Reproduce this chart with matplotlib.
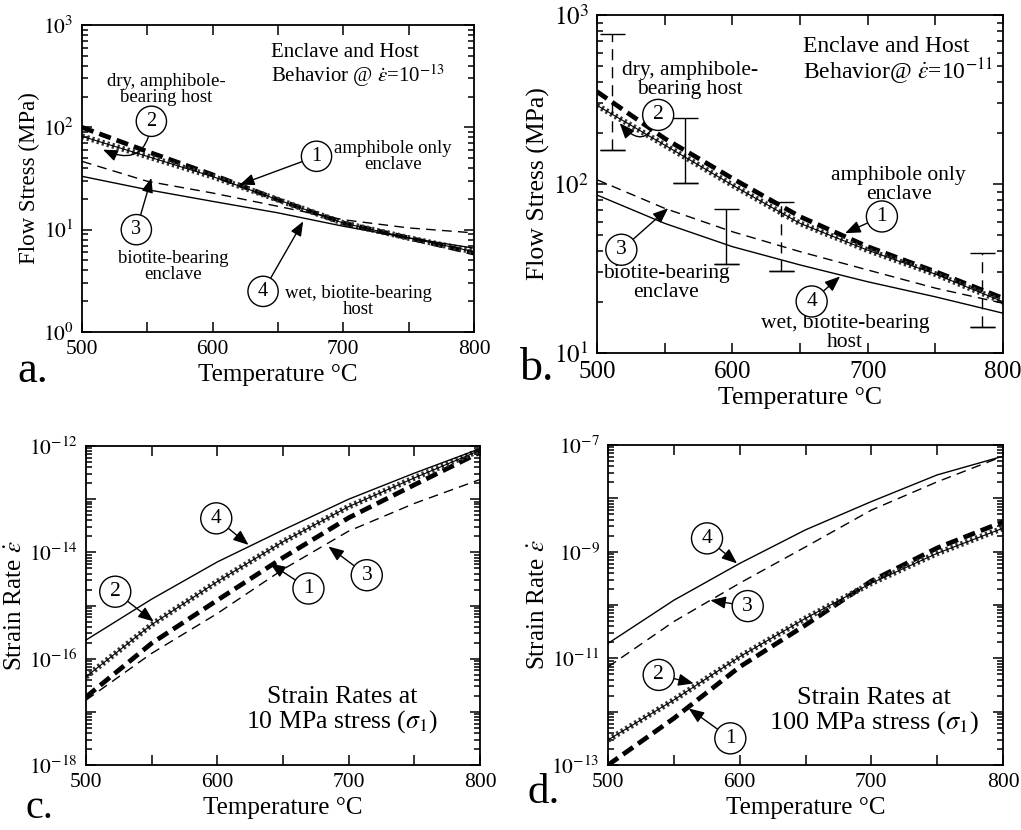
import numpy as np
import matplotlib
matplotlib.use("Agg")
import matplotlib.pyplot as plt
from matplotlib.ticker import FixedLocator, FuncFormatter, LogLocator, MultipleLocator, NullFormatter

plt.rcParams["font.family"] = ["Liberation Serif", "DejaVu Serif"]
plt.rcParams["mathtext.fontset"] = "stix"

temp = [500, 550, 600, 650, 700, 750, 800]

# a. flow stress (MPa), strain rate 1e-13
a_amph_encl = [100, 58, 34.4, 19.6, 11.6, 8.3, 5.9]
a_dry_host = [81.7, 52, 33, 19.6, 11.6, 8.3, 6.1]
a_bio_encl = [46.5, 29.7, 22.8, 16.9, 12.5, 10.4, 9.3]
a_wet_host = [33.2, 24.6, 18.9, 14.6, 10.8, 8.3, 6.6]

# b. flow stress (MPa), strain rate 1e-11
b_amph_encl = [352, 186, 108, 64.1, 42.6, 30.3, 21.1]
b_dry_host = [292, 170, 98.6, 58.5, 40.6, 29.3, 20.1]
b_bio_encl = [106, 71.8, 52.2, 39.8, 31, 24.2, 19.7]
b_wet_host = [86.1, 58.5, 42.6, 33.2, 26.4, 21.5, 17.2]

# b. error bars
bar_temp = [510.8, 565, 595.3, 635.7, 784.3]
bar_low = [160, 101, 33.6, 30.5, 14.2]
bar_high = [776, 247, 70.8, 78.5, 39.2]
bar_dashed = [True, False, False, True, True]

# c. log10 strain rate at 10 MPa
c_amph_encl = [-16.72, -15.71, -14.90, -14.10, -13.35, -12.73, -12.12]
c_dry_host = [-16.34, -15.36, -14.55, -13.80, -13.14, -12.60, -12.08]
c_bio_encl = [-16.78, -15.90, -15.15, -14.32, -13.60, -13.08, -12.63]
c_wet_host = [-15.65, -14.88, -14.18, -13.58, -13.00, -12.51, -12.05]

# d. log10 strain rate at 100 MPa
d_amph_encl = [-13.0, -12.125, -11.16, -10.375, -9.55, -8.93, -8.44]
d_dry_host = [-12.53, -11.78, -10.97, -10.25, -9.59, -9.03, -8.56]
d_bio_encl = [-11.16, -10.31, -9.59, -8.91, -8.22, -7.69, -7.21]
d_wet_host = [-10.72, -9.91, -9.22, -8.59, -8.06, -7.56, -7.21]


def draw_curves(ax, amph, dry, bio, wet):
    ax.plot(temp, amph, color="k", lw=3.4, ls=(0, (2.6, 1.3)))
    ax.plot(temp, dry, color="0.2", lw=4.2, ls=(0, (0.4, 0.5)))
    ax.plot(temp, dry, color="k", lw=0.8)
    ax.plot(temp, bio, color="k", lw=1.0, ls=(0, (7, 4.5)))
    ax.plot(temp, wet, color="k", lw=1.0)


def setup(ax, lo, hi, labelled, ylabel, tick_fs, xlabel_fs, ylabel_fs):
    ax.set_yscale("log")
    ax.set_xlim(500, 800)
    ax.set_ylim(10.0 ** lo, 10.0 ** hi)
    ax.xaxis.set_major_locator(MultipleLocator(100))
    ax.xaxis.set_minor_locator(MultipleLocator(50))
    ax.yaxis.set_major_locator(FixedLocator([10.0 ** e for e in range(lo, hi + 1)]))
    ax.yaxis.set_minor_locator(LogLocator(base=10, subs=np.arange(2, 10), numticks=50))
    ax.yaxis.set_minor_formatter(NullFormatter())
    ax.yaxis.set_major_formatter(FuncFormatter(
        lambda v, p: r"$10^{%d}$" % round(np.log10(v)) if round(np.log10(v)) in labelled else ""))
    ax.tick_params(which="both", direction="in", top=True, right=True, width=1.1)
    ax.tick_params(which="major", length=7, labelsize=tick_fs, pad=6)
    ax.tick_params(which="minor", length=4)
    ax.tick_params(axis="x", which="minor", length=7)
    for s in ax.spines.values():
        s.set_linewidth(1.3)
    ax.set_xlabel("Temperature °C", fontsize=xlabel_fs, labelpad=3)
    ax.set_ylabel(ylabel, fontsize=ylabel_fs, labelpad=2)


def circled(ax, num, xy, xytext, fs, rad=0.0):
    ax.annotate(num, xy=xy, xytext=xytext, ha="center", va="center", fontsize=fs,
                bbox=dict(boxstyle="circle,pad=0.28", fc="white", ec="k", lw=1.0),
                arrowprops=dict(arrowstyle="-|>,head_length=0.6,head_width=0.24", color="k",
                                lw=1.0, shrinkA=0, shrinkB=0,
                                connectionstyle="arc3,rad=%s" % rad))


fig = plt.figure(figsize=(10.21, 8.30), dpi=100)
ax_a = fig.add_axes([0.0803, 0.600, 0.3839, 0.3699])
ax_b = fig.add_axes([0.5847, 0.5747, 0.3977, 0.4072])
ax_c = fig.add_axes([0.0842, 0.0783, 0.3859, 0.3843])
ax_d = fig.add_axes([0.5955, 0.0783, 0.3869, 0.3855])

# a
draw_curves(ax_a, a_amph_encl, a_dry_host, a_bio_encl, a_wet_host)
setup(ax_a, 0, 3, [0, 1, 2, 3], "Flow Stress (MPa)", 15.5, 18, 16.5)
ax_a.text(645, 10 ** 2.60, "Enclave and Host\nBehavior @ $\\dot{\\varepsilon}$=10$^{-13}$",
          fontsize=15, ha="left", va="center", linespacing=1.0)
ax_a.text(564.6, 10 ** 2.37, "dry, amphibole-\nbearing host", fontsize=13.5,
          ha="center", va="center", linespacing=0.95)
ax_a.text(738.2, 10 ** 1.717, "amphibole only\nenclave", fontsize=13.5,
          ha="center", va="center", linespacing=0.95)
ax_a.text(569.7, 10 ** 0.642, "biotite-bearing\nenclave", fontsize=13.5,
          ha="center", va="center", linespacing=0.95)
ax_a.text(711.4, 10 ** 0.30, "wet, biotite-bearing\nhost", fontsize=13.5,
          ha="center", va="center", linespacing=0.95)
circled(ax_a, "2", (516.1, 10 ** 1.782), (553.1, 10 ** 2.059), 14.5, rad=-0.7)
circled(ax_a, "1", (620.8, 10 ** 1.44), (679.5, 10 ** 1.717), 14.5)
circled(ax_a, "3", (553.1, 10 ** 1.505), (541.6, 10 ** 1.0), 14.5)
circled(ax_a, "4", (669.3, 10 ** 1.081), (638.6, 10 ** 0.397), 14.5)

# b
draw_curves(ax_b, b_amph_encl, b_dry_host, b_bio_encl, b_wet_host)
for x, lo, hi, dashed in zip(bar_temp, bar_low, bar_high, bar_dashed):
    eb = ax_b.errorbar([x], [lo], yerr=[[0], [hi - lo]], fmt="none", ecolor="k",
                       elinewidth=1.0, capsize=9, capthick=1.0)
    if dashed:
        eb[2][0].set_linestyle((0, (8, 5)))
    ax_b.plot([x], [lo], marker="_", ms=18, mew=1.0, color="k")
setup(ax_b, 1, 3, [1, 2, 3], "Flow Stress (MPa)", 18, 18.5, 18.5)
ax_b.text(652, 10 ** 2.724, "Enclave and Host\nBehavior@ $\\dot{\\varepsilon}$=10$^{-11}$",
          fontsize=17, ha="left", va="center", linespacing=1.0)
ax_b.text(568.6, 10 ** 2.616, "dry, amphibole-\nbearing host", fontsize=15.5,
          ha="center", va="center", linespacing=0.95)
ax_b.text(722.8, 10 ** 1.995, "amphibole only\nenclave", fontsize=15.5,
          ha="center", va="center", linespacing=0.95)
ax_b.text(551.3, 10 ** 1.414, "biotite-bearing\nenclave", fontsize=15.5,
          ha="center", va="center", linespacing=0.95)
ax_b.text(683.3, 10 ** 1.118, "wet, biotite-bearing\nhost", fontsize=15.5,
          ha="center", va="center", linespacing=0.95)
circled(ax_b, "2", (516.8, 10 ** 2.36), (545.2, 10 ** 2.409), 15.5, rad=-0.9)
circled(ax_b, "1", (683.3, 10 ** 1.709), (710.5, 10 ** 1.808), 15.5)
circled(ax_b, "3", (552.6, 10 ** 1.857), (518, 10 ** 1.611), 15.5)
circled(ax_b, "4", (679.6, 10 ** 1.453), (658.6, 10 ** 1.305), 15.5)

# c
draw_curves(ax_c, 10.0 ** np.array(c_amph_encl), 10.0 ** np.array(c_dry_host),
            10.0 ** np.array(c_bio_encl), 10.0 ** np.array(c_wet_host))
setup(ax_c, -18, -12, [-18, -16, -14, -12], "Strain Rate $\\dot{\\varepsilon}$", 15.5, 18, 18)
ax_c.text(694.8, 10 ** -16.98, "Strain Rates at\n10 MPa stress ($\\sigma_1$)", fontsize=18.5,
          ha="center", va="center", linespacing=1.0)
circled(ax_c, "4", (623.8, 10 ** -13.86), (599.2, 10 ** -13.36), 15.5)
circled(ax_c, "2", (551.5, 10 ** -15.30), (522.3, 10 ** -14.74), 15.5)
circled(ax_c, "1", (640.2, 10 ** -14.21), (669.4, 10 ** -14.68), 15.5)
circled(ax_c, "3", (684.6, 10 ** -13.89), (713.8, 10 ** -14.43), 15.5)

# d
draw_curves(ax_d, 10.0 ** np.array(d_amph_encl), 10.0 ** np.array(d_dry_host),
            10.0 ** np.array(d_bio_encl), 10.0 ** np.array(d_wet_host))
setup(ax_d, -13, -7, [-13, -11, -9, -7], "Strain Rate $\\dot{\\varepsilon}$", 15.5, 18, 18)
ax_d.text(701.8, 10 ** -12.0, "Strain Rates at\n100 MPa stress ($\\sigma_1$)", fontsize=19,
          ha="center", va="center", linespacing=1.0)
circled(ax_d, "4", (598, 10 ** -9.22), (575.2, 10 ** -8.75), 15.5)
circled(ax_d, "3", (577.7, 10 ** -9.91), (606.1, 10 ** -10.02), 15.5)
circled(ax_d, "2", (565.1, 10 ** -11.47), (538.5, 10 ** -11.31), 15.5)
circled(ax_d, "1", (561.3, 10 ** -11.94), (592.9, 10 ** -12.5), 15.5)

fig.text(0.0167, 0.5398, "a.", fontsize=32, va="baseline")
fig.text(0.509, 0.542, "b.", fontsize=33, va="baseline")
fig.text(0.0245, 0.014, "c.", fontsize=29, va="baseline")
fig.text(0.517, 0.0325, "d.", fontsize=31, va="baseline")

fig.savefig("out.png", dpi=100)
